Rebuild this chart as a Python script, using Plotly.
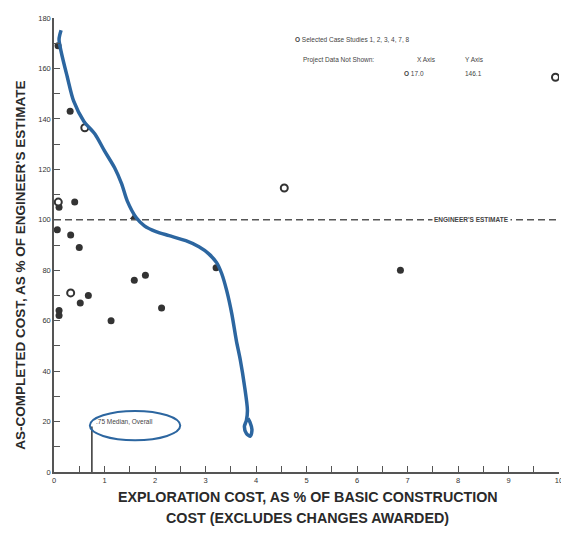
import plotly.graph_objects as go

# ---- data ----
filled_x = [0.08, 0.32, 0.41, 0.10, 0.065, 0.33, 0.50, 1.59, 1.81, 3.21, 0.52, 0.68, 0.10, 0.10, 1.13, 2.13, 6.86]
filled_y = [169, 143, 107, 105, 96, 94, 89, 76, 78, 81, 67, 70, 64, 62, 60, 65, 80]
tri_x = [1.58]
tri_y = [101]
open_x = [0.61, 0.085, 0.33, 4.56, 9.93]
open_y = [136.5, 107, 71, 112.6, 156.5]
median_x = 0.75
median_y = 18
estimate_y = 100

# hand-drawn blue curve (annotation overlay)
curve_x = [0.14, 0.10, 0.14, 0.26, 0.39, 0.59, 0.81, 1.00, 1.20, 1.34, 1.45, 1.63, 1.79, 2.02, 2.28,
           2.61, 2.87, 3.06, 3.22, 3.32, 3.42, 3.52, 3.61, 3.69, 3.77, 3.83, 3.81, 3.77, 3.81, 3.89, 3.92, 3.88, 3.84]
curve_y = [175.1, 171.5, 166.8, 156.9, 147.0, 139.1, 134.0, 127.3, 120.6, 114.2, 107.5, 100.8, 97.6, 95.3, 93.7,
           91.7, 89.3, 86.6, 83.0, 78.7, 71.9, 62.8, 52.2, 44.3, 34.4, 24.5, 20.5, 18.0, 15.3, 14.2, 16.8, 19.8, 21.3]

ink = "#333333"
blue = "#2c66a0"
font = "Liberation Sans"

# page has an 8px body margin; target plot-area pixels in the window
OFF = 8
W, H = 569 - OFF, 534 - OFF
L, R, T, B = 54, 563, 17, 472
def px(xp):
    return (xp - L) / (R - L)
def py(yp):
    return (B - yp) / (B - T)

fig = go.Figure()

fig.add_trace(go.Scatter(x=[median_x, median_x], y=[0, median_y], mode="lines",
                         line=dict(color=ink, width=1.5), hoverinfo="skip"))
fig.add_trace(go.Scatter(x=filled_x, y=filled_y, mode="markers",
                         marker=dict(color=ink, size=7, symbol="circle")))
fig.add_trace(go.Scatter(x=tri_x, y=tri_y, mode="markers",
                         marker=dict(color=ink, size=7, symbol="triangle-up")))
fig.add_trace(go.Scatter(x=open_x, y=open_y, mode="markers",
                         marker=dict(color="white", size=7, symbol="circle",
                                     line=dict(color=ink, width=2))))
fig.add_trace(go.Scatter(x=curve_x, y=curve_y, mode="lines",
                         line=dict(color=blue, width=3.5, shape="spline", smoothing=0.8),
                         hoverinfo="skip"))

# dashed engineer's estimate line
fig.add_shape(type="line", x0=0, x1=10, y0=estimate_y, y1=estimate_y, xref="x", yref="y",
              line=dict(color="#555555", width=1.5, dash="7px,4px"), layer="below")
# blue ellipse
fig.add_shape(type="circle", x0=0.71, x1=2.5, y0=12.6, y1=24.2, xref="x", yref="y",
              line=dict(color=blue, width=2))

small = dict(family=font, size=6.5, color="#444444")
fig.add_annotation(x=8.27, y=estimate_y, xref="x", yref="y", text="<b>ENGINEER'S ESTIMATE</b>",
                   showarrow=False, font=small, bgcolor="white", borderpad=1)
fig.add_annotation(x=0.79, y=20, xref="x", yref="y", text=".75 Median, Overall",
                   showarrow=False, xanchor="left", font=small)

# legend-like notes
fig.add_annotation(x=4.74, y=171.5, xref="x", yref="y", text="<b>O</b> Selected Case Studies 1, 2, 3, 4, 7, 8",
                   showarrow=False, xanchor="left", font=small)
fig.add_annotation(x=4.9, y=163.5, xref="x", yref="y", text="Project Data Not Shown:",
                   showarrow=False, xanchor="left", font=small)
fig.add_annotation(x=7.15, y=163.5, xref="x", yref="y", text="X Axis",
                   showarrow=False, xanchor="left", font=small)
fig.add_annotation(x=8.1, y=163.5, xref="x", yref="y", text="Y Axis",
                   showarrow=False, xanchor="left", font=small)
fig.add_annotation(x=6.9, y=158, xref="x", yref="y", text="<b>O</b> 17.0",
                   showarrow=False, xanchor="left", font=small)
fig.add_annotation(x=8.1, y=158, xref="x", yref="y", text="146.1",
                   showarrow=False, xanchor="left", font=small)

# axis titles
fig.add_annotation(x=px(310), y=py(497), xref="paper", yref="paper", yanchor="middle",
                   text="<b>EXPLORATION COST, AS % OF BASIC CONSTRUCTION</b>", showarrow=False,
                   font=dict(family=font, size=14.3, color="#2a2a2a"))
fig.add_annotation(x=px(310), y=py(518), xref="paper", yref="paper", yanchor="middle",
                   text="<b>COST (EXCLUDES CHANGES AWARDED)</b>", showarrow=False,
                   font=dict(family=font, size=14.3, color="#2a2a2a"))
fig.add_annotation(x=px(20), y=py(265), xref="paper", yref="paper", textangle=-90,
                   xanchor="center", yanchor="middle",
                   text="<b>AS-COMPLETED COST, AS % OF ENGINEER'S ESTIMATE</b>", showarrow=False,
                   font=dict(family=font, size=13.5, color="#2a2a2a"))

tickfont = dict(family=font, size=7.5, color="#333333")
fig.update_xaxes(range=[0, 10], dtick=1, tick0=0, ticks="inside", ticklen=6, tickwidth=1.2,
                 tickcolor="#555555", showline=True, linecolor="#555555", linewidth=1.5,
                 showgrid=False, zeroline=False, tickfont=tickfont,
                 minor=dict(dtick=0.5, ticks="inside", ticklen=6, tickcolor="#555555", tickwidth=1.2))
fig.update_yaxes(range=[0, 180], dtick=20, tick0=0, ticks="inside", ticklen=6, tickwidth=1.2,
                 tickcolor="#555555", showline=True, linecolor="#555555", linewidth=1.5,
                 showgrid=False, zeroline=False, tickfont=tickfont,
                 minor=dict(dtick=10, ticks="inside", ticklen=6, tickcolor="#555555", tickwidth=1.2))

fig.update_layout(width=W, height=H, showlegend=False,
                  margin=dict(l=L - OFF, r=W - (R - OFF), t=T - OFF, b=H - (B - OFF)),
                  plot_bgcolor="white", paper_bgcolor="white")

fig.write_html("out.html")
